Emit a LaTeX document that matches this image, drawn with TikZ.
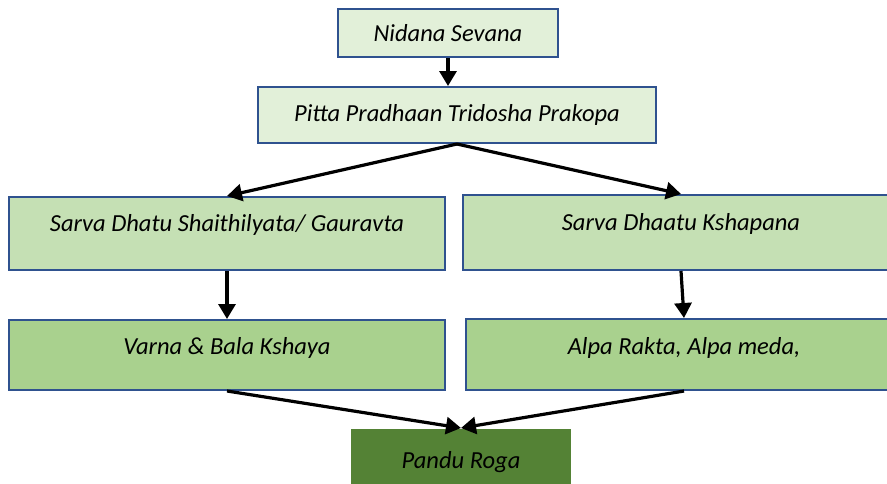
\documentclass[tikz,border=0pt]{standalone}
\usepackage{fontspec}
\setmainfont{Carlito}
\usepackage{tikz}
\usetikzlibrary{arrows.meta}
\usepackage{xcolor}
\definecolor{edge}{HTML}{2F528F}
\definecolor{pale}{HTML}{E2F0D9}
\definecolor{mid}{HTML}{C5E0B4}
\definecolor{deep}{HTML}{A9D18E}
\definecolor{dark}{HTML}{548235}
\tikzset{stage/.style={draw=edge,line width=2pt,inner sep=0pt,font=\fontsize{24.5}{28}\selectfont\itshape},
  flow/.style={line width=3.2pt,-{Triangle[length=15pt,width=17pt]}}}

\begin{document}
\begin{tikzpicture}[x=1pt,y=-1pt]
    \useasboundingbox (0,0) rectangle (887,483);
    \node[stage,fill=pale,minimum width=220,minimum height=48] (nidana) at (448,33) {Nidana Sevana};
    \node[stage,fill=pale,minimum width=398,minimum height=56] (pitta) at (457,115) {Pitta Pradhaan Tridosha Prakopa};
    \node[stage,fill=mid,minimum width=436,minimum height=73,text depth=22pt] (shaithilya) at (227,233.5) {Sarva Dhatu Shaithilyata/ Gauravta};
    \node[stage,fill=mid,minimum width=436,minimum height=75,text depth=22pt] (kshapana) at (681,232.5) {Sarva Dhaatu Kshapana};
    \node[stage,fill=deep,minimum width=436,minimum height=70,text depth=18pt] (varna) at (227,355) {Varna \& Bala Kshaya};
    \node[stage,fill=deep,minimum width=436,minimum height=71,text depth=18pt] (alpa) at (684,354.5) {Alpa Rakta, Alpa meda,};
    \node[stage,draw=none,fill=dark,minimum width=220,minimum height=66] (pandu) at (461,462) {Pandu Roga};
    \draw[flow] (nidana.south) -- (nidana.south |- pitta.north);
    \draw[flow] (pitta.south) -- (shaithilya.north);
    \draw[flow] (pitta.south) -- (kshapana.north);
    \draw[flow] (shaithilya) -- (varna);
    \draw[flow] (kshapana.south) -- (alpa.north);
    \draw[flow] (varna.south) -- (pandu.north);
    \draw[flow] (alpa.south) -- (pandu.north);
\end{tikzpicture}
\end{document}
